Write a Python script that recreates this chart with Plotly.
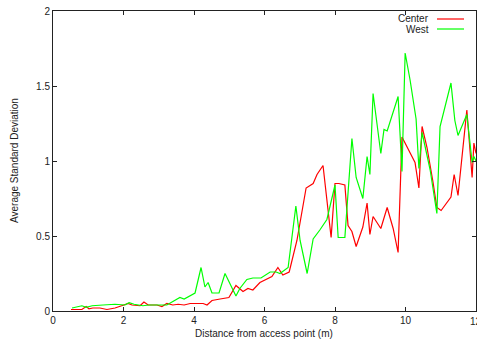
import plotly.graph_objects as go

# Center (red)
center_x = [0.51, 0.82, 0.94, 1.02, 1.13, 1.33, 1.53, 1.76, 2.01, 2.13, 2.24, 2.47, 2.58, 2.70,
            2.95, 3.09, 3.23, 3.40, 3.55, 3.72, 3.89, 4.26, 4.37, 4.51, 4.74, 4.99, 5.19, 5.39,
            5.53, 5.67, 5.87, 6.21, 6.38, 6.52, 6.70, 6.92, 7.18, 7.38, 7.49, 7.66, 7.89, 8.00,
            8.11, 8.28, 8.37, 8.48, 8.60, 8.79, 8.91, 8.99, 9.08, 9.30, 9.48, 9.56, 9.65, 9.79,
            9.90, 10.27, 10.38, 10.47, 10.61, 10.78, 10.89, 11.01, 11.29, 11.38, 11.49, 11.74,
            11.89, 11.94, 12.0]
center_y = [0.01, 0.01, 0.03, 0.015, 0.02, 0.02, 0.01, 0.02, 0.04, 0.05, 0.04, 0.035, 0.06, 0.04,
            0.04, 0.03, 0.05, 0.04, 0.045, 0.04, 0.05, 0.05, 0.04, 0.07, 0.08, 0.09, 0.17, 0.13,
            0.15, 0.14, 0.19, 0.23, 0.29, 0.24, 0.26, 0.47, 0.82, 0.85, 0.91, 0.97, 0.49, 0.85,
            0.85, 0.84, 0.57, 0.53, 0.43, 0.56, 0.72, 0.51, 0.63, 0.55, 0.69, 0.62, 0.55, 0.39,
            1.16, 0.99, 0.82, 1.23, 1.09, 0.86, 0.69, 0.67, 0.76, 0.91, 0.77, 1.34,
            0.89, 1.12, 1.05]

# West (green)
west_x = [0.54, 0.82, 0.94, 1.11, 1.42, 1.76, 2.04, 2.16, 2.30, 2.55, 2.72, 3.04, 3.23, 3.60,
          3.72, 4.03, 4.20, 4.31, 4.40, 4.51, 4.71, 4.88, 5.19, 5.30, 5.50, 5.67, 5.90, 6.16,
          6.33, 6.44, 6.67, 6.89, 7.01, 7.21, 7.38, 7.57, 7.77, 8.00, 8.09, 8.28, 8.48, 8.60,
          8.79, 8.91, 8.99, 9.08, 9.30, 9.39, 9.48, 9.79, 9.90, 9.99, 10.13, 10.30, 10.38,
          10.47, 10.70, 10.89, 10.98, 11.29, 11.40, 11.49, 11.74, 11.89, 11.94, 12.0]
west_y = [0.02, 0.035, 0.025, 0.035, 0.04, 0.045, 0.04, 0.055, 0.045, 0.035, 0.04, 0.04, 0.04, 0.09,
          0.08, 0.12, 0.29, 0.16, 0.19, 0.12, 0.12, 0.25, 0.10, 0.15, 0.21, 0.22, 0.22, 0.26,
          0.26, 0.25, 0.29, 0.70, 0.47, 0.25, 0.48, 0.54, 0.61, 0.84, 0.49, 0.49, 1.15, 0.89,
          0.75, 1.03, 0.91, 1.45, 1.05, 1.21, 1.20, 1.43, 0.93, 1.72, 1.54, 1.28, 0.95,
          1.19, 0.94, 0.65, 1.23, 1.52, 1.27, 1.17, 1.31, 0.99, 1.03, 1.0]

x_ticks = [0, 2, 4, 6, 8, 10, 12]
x_ticklabels = ["0", "2", "4", "6", "8", "10", "12"]
y_ticks = [0, 0.5, 1, 1.5, 2]
series_names = ["Center", "West"]
series_colors = ["#ff0000", "#00ff00"]

FONT = "Liberation Sans, Arial, Helvetica, sans-serif"

fig = go.Figure()
fig.add_trace(go.Scatter(x=center_x, y=center_y, mode="lines", name=series_names[0],
                         line=dict(color=series_colors[0], width=1.2)))
fig.add_trace(go.Scatter(x=west_x, y=west_y, mode="lines", name=series_names[1],
                         line=dict(color=series_colors[1], width=1.2)))

axis_common = dict(showgrid=False, zeroline=False, showline=True, linecolor="#222",
                   linewidth=1, mirror="ticks", ticks="inside", ticklen=4,
                   tickcolor="#222", tickwidth=1,
                   tickfont=dict(family=FONT, size=10, color="#222"))

# last x label overflows the page edge (clipped, as in the reference): drawn as annotation
fig.update_xaxes(range=[0, 12], tickvals=x_ticks[:-1], ticktext=x_ticklabels[:-1], **axis_common)
fig.update_yaxes(range=[0, 2], tickvals=y_ticks, **axis_common)
fig.add_annotation(xref="x", yref="paper", x=x_ticks[-1], y=0, yshift=-3,
                   text=x_ticklabels[-1], showarrow=False, xanchor="center", yanchor="top",
                   font=dict(family=FONT, size=10, color="#222"))

# Custom legend (text left of line sample, gnuplot style)
leg_y = [1 - 8/300, 1 - 18/300]
for i, (nm, col) in enumerate(zip(series_names, series_colors)):
    fig.add_annotation(xref="paper", yref="paper", x=(431-53)/423, y=leg_y[i],
                       text=nm, showarrow=False, xanchor="right", yanchor="middle",
                       font=dict(family=FONT, size=10, color="#222"))
    fig.add_shape(type="line", xref="paper", yref="paper",
                  x0=(437-53)/423, x1=(464-53)/423, y0=leg_y[i], y1=leg_y[i],
                  line=dict(color=col, width=1.2))

fig.add_annotation(xref="paper", yref="paper", x=(264-53)/423, y=-22/300,
                   text="Distance from access point (m)", showarrow=False,
                   xanchor="center", yanchor="middle",
                   font=dict(family=FONT, size=10, color="#222"))
fig.add_annotation(xref="paper", yref="paper", x=-39/423, y=0.5,
                   text="Average Standard Deviation", showarrow=False, textangle=-90,
                   xanchor="center", yanchor="middle",
                   font=dict(family=FONT, size=10, color="#222"))

fig.update_layout(width=477, height=342, showlegend=False,
                  margin=dict(l=53, r=1, t=11, b=31),
                  paper_bgcolor="white", plot_bgcolor="white",
                  font=dict(family=FONT, size=10, color="#222"))

fig.write_html("out.html", config={"displayModeBar": False},
               post_script="document.body.style.margin='0';document.body.style.overflow='hidden';")
